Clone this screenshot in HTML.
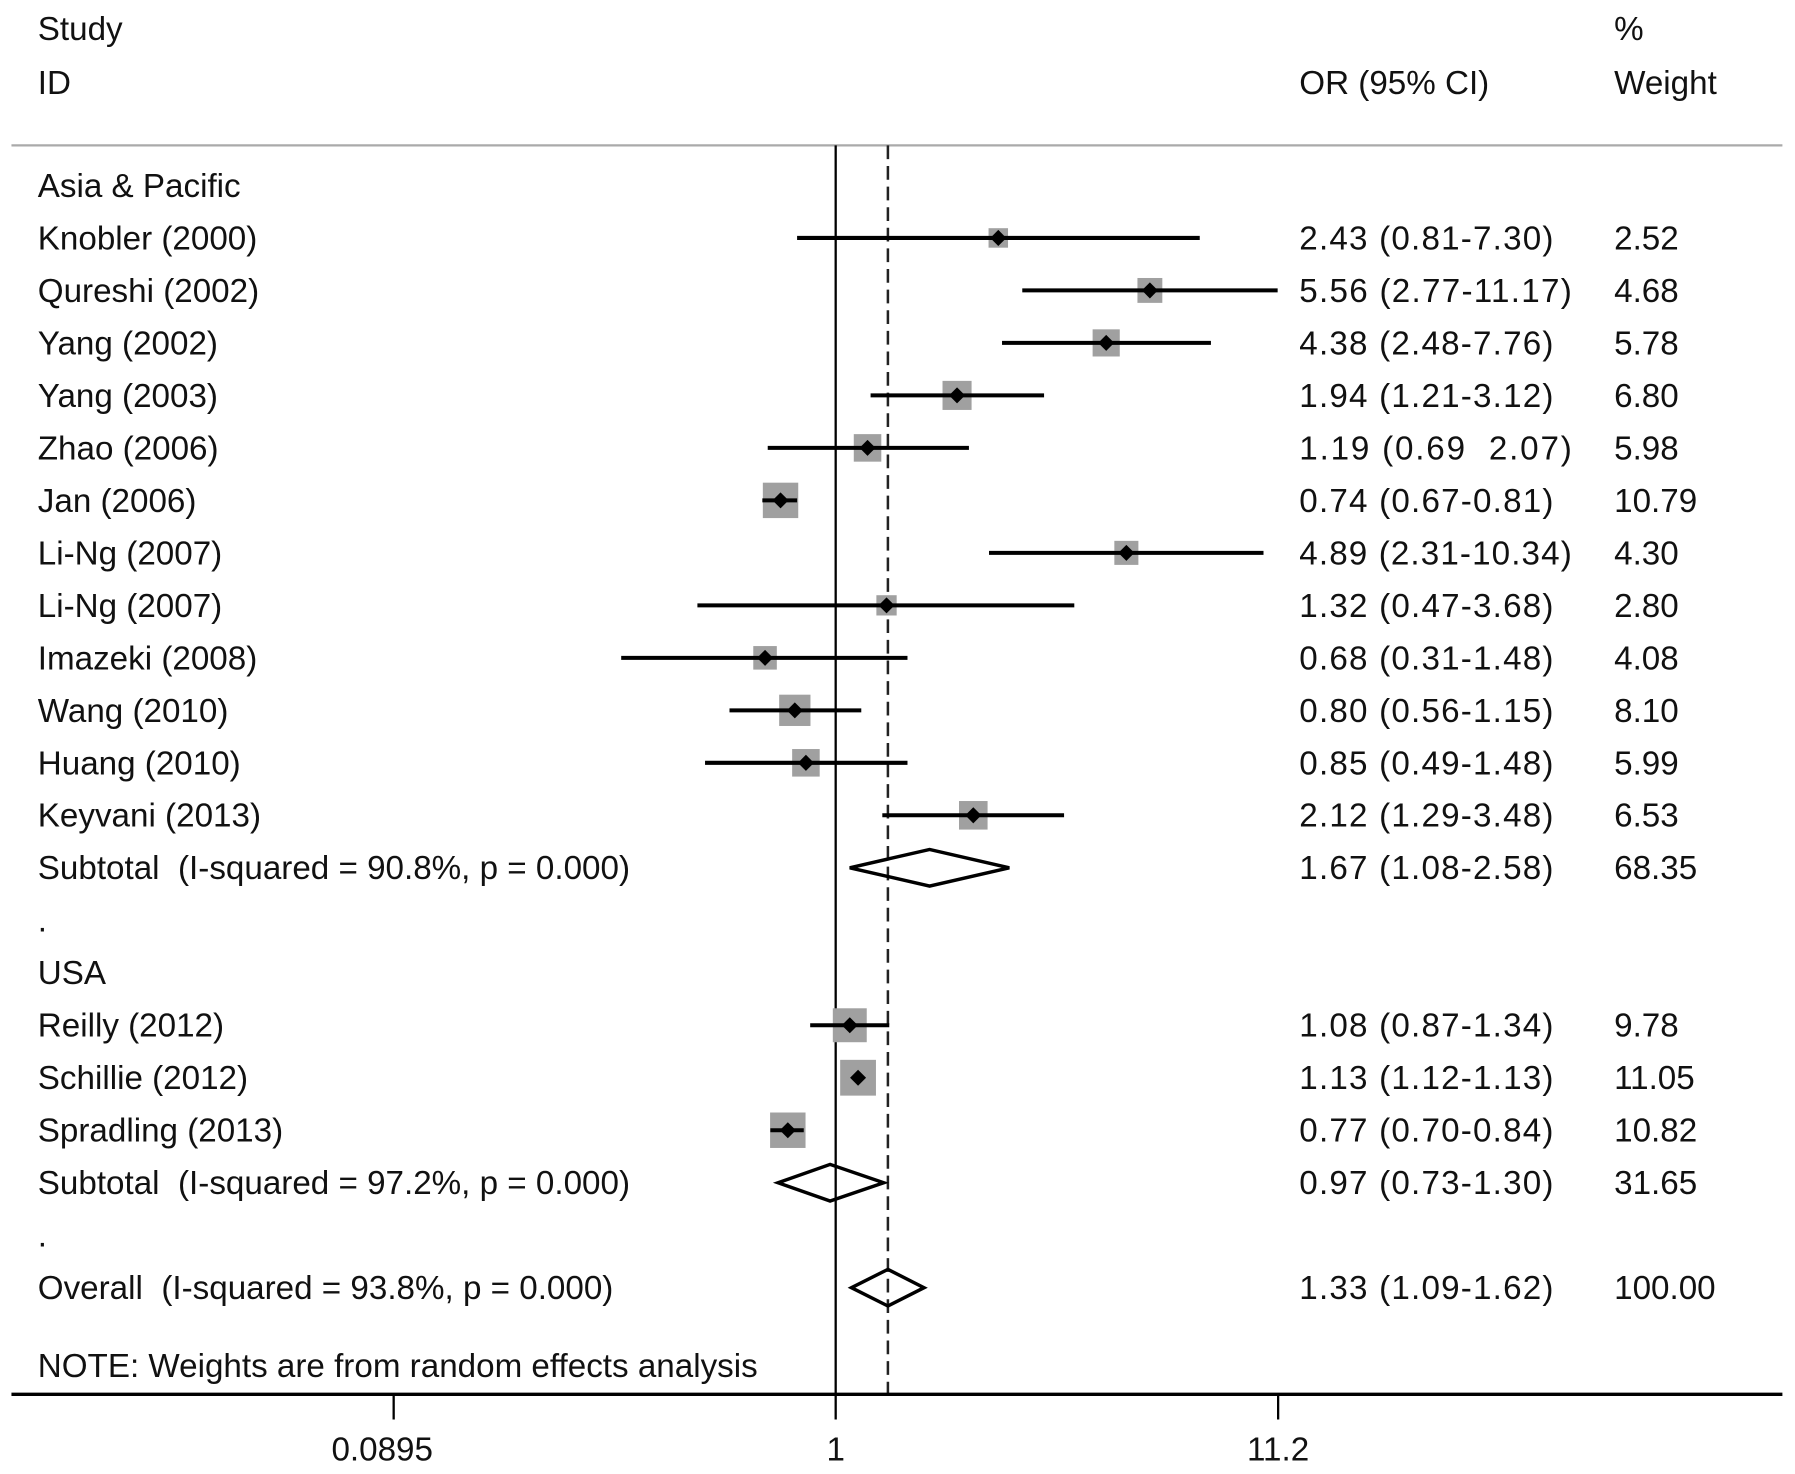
<!DOCTYPE html>
<html><head><meta charset="utf-8"><style>html,body{margin:0;padding:0;background:#fff}svg{display:block}text{font-family:"Liberation Sans",sans-serif;font-size:29px;fill:#111;white-space:pre}</style></head>
<body>
<svg id="chart" width="1795" height="1474" viewBox="0 0 1568 1287.6" xmlns="http://www.w3.org/2000/svg">
<rect width="1568" height="1288" fill="#fff"/>
<text x="33" y="35">Study</text>
<text x="33" y="82">ID</text>
<text x="1135" y="82">OR (95% CI)</text>
<text x="1410" y="35">%</text>
<text x="1410" y="82">Weight</text>
<line x1="10" y1="127" x2="1557" y2="127" stroke="#aaa" stroke-width="2"/>
<g id="marks"></g>
<line x1="10" y1="1218" x2="1557" y2="1218" stroke="#000" stroke-width="3"/>
<g id="ticks"></g>
</svg>
<script>
const labels=["Knobler (2000)","Qureshi (2002)","Yang (2002)","Yang (2003)","Zhao (2006)","Jan (2006)","Li-Ng (2007)","Li-Ng (2007)","Imazeki (2008)","Wang (2010)","Huang (2010)","Keyvani (2013)","Reilly (2012)","Schillie (2012)","Spradling (2013)"];
const orVals=[2.43,5.56,4.38,1.94,1.19,0.74,4.89,1.32,0.68,0.80,0.85,2.12,1.08,1.13,0.77];
const loVals=[0.81,2.77,2.48,1.21,0.69,0.67,2.31,0.47,0.31,0.56,0.49,1.29,0.87,1.12,0.70];
const hiVals=[7.30,11.17,7.76,3.12,2.07,0.81,10.34,3.68,1.48,1.15,1.48,3.48,1.34,1.13,0.84];
const ciText=["2.43 (0.81-7.30)","5.56 (2.77-11.17)","4.38 (2.48-7.76)","1.94 (1.21-3.12)","1.19 (0.69  2.07)","0.74 (0.67-0.81)","4.89 (2.31-10.34)","1.32 (0.47-3.68)","0.68 (0.31-1.48)","0.80 (0.56-1.15)","0.85 (0.49-1.48)","2.12 (1.29-3.48)","1.08 (0.87-1.34)","1.13 (1.12-1.13)","0.77 (0.70-0.84)"];
const weights=[2.52,4.68,5.78,6.80,5.98,10.79,4.30,2.80,4.08,8.10,5.99,6.53,9.78,11.05,10.82];
const rowIdx=[1,2,3,4,5,6,7,8,9,10,11,12,16,17,18];
const sumLabels=["Subtotal  (I-squared = 90.8%, p = 0.000)","Subtotal  (I-squared = 97.2%, p = 0.000)","Overall  (I-squared = 93.8%, p = 0.000)"];
const sumOr=[1.67,0.97,1.33];
const sumLo=[1.08,0.73,1.09];
const sumHi=[2.58,1.30,1.62];
const sumW=["68.35","31.65","100.00"];
const sumRow=[13,19,21];
const tickVals=[0.0895,1,11.2];
const tickLabels=["0.0895","1","11.2"];

const NS="http://www.w3.org/2000/svg";
const X=v=>730+386.5*Math.log10(v)/Math.log10(11.2);
const Y=r=>162+r*45.85;
const g=document.getElementById('marks');
function mk(t,a,p){const e=document.createElementNS(NS,t);for(const k in a)e.setAttribute(k,a[k]);(p||g).appendChild(e);return e;}
function txt(x,y,s,p){const e=mk('text',{x:x,y:y},p);e.textContent=s;return e;}
const CI=s=>s.replace(/-/g,' - ').replace(/  2\.07/,'   2.07');

let e;
e=txt(33,Y(0)+10,"Asia & Pacific");


e=txt(33,Y(15)+10,"USA");


e=txt(33,Y(14)+10,".");


e=txt(33,Y(20)+10,".");


e=txt(33,1203,"NOTE: Weights are from random effects analysis");



e=mk('line',{x1:X(1),y1:127,x2:X(1),y2:1218,stroke:'#000','stroke-width':2});


e=mk('line',{x1:X(sumOr[2]),y1:127,x2:X(sumOr[2]),y2:1218,stroke:'#222','stroke-width':2.2,'stroke-dasharray':'12,6'});



for(let i=0;i<labels.length;i++){
  const y=Y(rowIdx[i]);
  e=txt(33,y+10,labels[i]);
  
  
  const s=4+8.2*Math.sqrt(weights[i]);
  e=mk('rect',{x:X(orVals[i])-s/2,y:y-s/2,width:s,height:s,fill:'#a0a0a0'});
  
  
  e=mk('line',{x1:X(loVals[i]),y1:y,x2:X(hiVals[i]),y2:y,stroke:'#000','stroke-width':3.5});
  
  
  const cx=X(orVals[i]);
  e=mk('polygon',{points:`${cx-7},${y} ${cx},${y-7} ${cx+7},${y} ${cx},${y+7}`,fill:'#000'});
  
  
  e=txt(1135,y+10,ciText[i]);
  e.setAttribute('textLength',ciText[i].length>16?238:222);
  
  
  e=txt(1410,y+10,weights[i].toFixed(2));
  
  
}
for(let i=0;i<sumOr.length;i++){
  const y=Y(sumRow[i]);
  e=txt(33,y+10,sumLabels[i]);
  
  
  e=mk('polygon',{points:`${X(sumLo[i])},${y} ${X(sumOr[i])},${y-16} ${X(sumHi[i])},${y} ${X(sumOr[i])},${y+16}`,fill:'none',stroke:'#000','stroke-width':3});
  
  
  e=txt(1135,y+10,sumOr[i].toFixed(2)+" ("+sumLo[i].toFixed(2)+"-"+sumHi[i].toFixed(2)+")");
  e.setAttribute('textLength',222);
  
  
  e=txt(1410,y+10,sumW[i]);
  
  
}
const tg=document.getElementById('ticks');
for(let i=0;i<tickVals.length;i++){
  const x=X(tickVals[i]);
  e=mk('line',{x1:x,y1:1218,x2:x,y2:1240,stroke:'#000','stroke-width':2},tg);
  
  
  e=txt(x-(i===0?10:0),1276,tickLabels[i],tg);
  e.setAttribute('text-anchor','middle');
  
  
}
</script>
</body></html>
